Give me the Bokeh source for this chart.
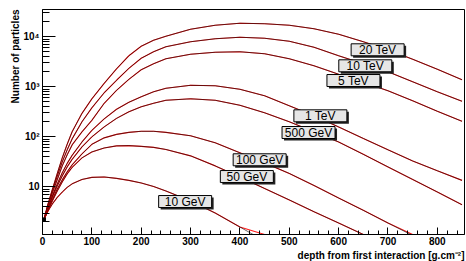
import numpy as np
from bokeh.plotting import figure
from bokeh.models import Range1d, FixedTicker, Title
from bokeh.core.properties import value
from bokeh.embed import file_html
from bokeh.resources import INLINE

# Longitudinal shower profiles: number of particles vs depth [g/cm^2]
depth = [3, 10, 20, 30, 40, 50, 60, 80, 100, 125, 150, 175, 200, 225, 250, 300,
         350, 400, 450, 500, 550, 600, 650, 700, 750, 800, 850]

n_10gev = [2.24, 3.16, 4.57, 6.2, 7.9, 9.8, 11.5, 14.1, 15.5, 15.8, 14.8, 13.5, 12.0, 10.2,
           8.3, 5.25, 3.0, 1.58, 0.83, 0.44, 0.23, 0.12, 0.063, 0.033, 0.017, 0.009, 0.005]
n_50gev = [2.24, 3.16, 5.25, 8.3, 12.6, 18.2, 24.5, 38, 50, 60, 66, 66.8, 64.6, 61.7,
           56, 41.7, 26.3, 15.8, 9.3, 5.5, 3.2, 1.9, 1.12, 0.66, 0.39, 0.23, 0.135]
n_100gev = [2.24, 3.3, 5.6, 9.1, 13.8, 20, 27.5, 45.7, 70.8, 95.5, 112, 123, 129, 129,
            123, 105, 76, 47.9, 30.2, 18.6, 10.7, 6.0, 3.4, 1.9, 1.07, 0.6, 0.34]
n_500gev = [2.24, 3.47, 6.3, 10.5, 16.6, 25.1, 35.5, 63, 100, 158, 234, 316, 398, 468,
            537, 575, 537, 427, 302, 200, 126, 79, 44.7, 25.1, 14.1, 7.9, 4.4]
n_1tev = [2.24, 3.55, 6.6, 11.5, 19.1, 29.5, 42.7, 79, 135, 229, 355, 490, 631, 794,
          933, 1070, 1047, 891, 661, 417, 263, 158, 93, 55, 33, 21, 13.5]
n_5tev = [2.24, 3.8, 7.6, 14.1, 26.3, 43.7, 69, 126, 214, 468, 851, 1410, 2190, 2880,
          3630, 4470, 4900, 5010, 4570, 3630, 2630, 1780, 1230, 832, 525, 324, 204]
n_10tev = [2.24, 3.98, 8.3, 16.6, 31.6, 55, 91, 200, 380, 760, 1350, 2340, 3715, 5010,
           6310, 7940, 9120, 9770, 9330, 8130, 6170, 4170, 2880, 1995, 1260, 794, 513]
n_20tev = [2.24, 4.17, 8.9, 18.6, 38, 71, 126, 295, 575, 1175, 2290, 4170, 6460, 8510,
           10230, 14130, 16980, 18620, 18200, 16980, 14450, 11220, 7940, 5500, 3550, 2240, 1380]

energies = ["10 GeV", "50 GeV", "100 GeV", "500 GeV", "1 TeV", "5 TeV", "10 TeV", "20 TeV"]
profiles = [n_10gev, n_50gev, n_100gev, n_500gev, n_1tev, n_5tev, n_10tev, n_20tev]

# where each energy tag sits (depth, particles)
tag_depth = [289, 414, 440, 539, 563, 630, 654, 679]
tag_count = [5.1, 16.1, 34.8, 122, 263, 1334, 2625, 5480]

X0, X1 = 0, 855
Y0, Y1 = 1.12, 35000.0
FW, FH = 422, 225  # frame size in px

p = figure(width=466, height=261, output_backend="svg", toolbar_location=None,
           x_range=Range1d(X0, X1), y_range=Range1d(Y0, Y1), y_axis_type="log",
           min_border_left=42, min_border_right=2, min_border_top=9, min_border_bottom=27)
p.background_fill_color = "white"
p.border_fill_color = "white"
p.outline_line_color = "black"
p.outline_line_width = 1
p.xgrid.visible = False
p.ygrid.visible = False

FONT = "Liberation Sans"

p.xaxis.ticker = FixedTicker(ticks=list(range(0, 900, 100)),
                             minor_ticks=list(range(0, 880, 20)))
p.yaxis.ticker = FixedTicker(ticks=[10, 100, 1000, 10000],
                             minor_ticks=[m * 10 ** e for e in range(0, 5) for m in range(1, 10)])
p.yaxis.major_label_overrides = {10: "10", 100: "10²", 1000: "10³", 10000: "10⁴"}

for ax in (p.xaxis[0], p.yaxis[0]):
    ax.axis_line_color = "black"
    ax.major_tick_line_color = "black"
    ax.minor_tick_line_color = "black"
    ax.major_tick_out = 0
    ax.minor_tick_out = 0
    ax.major_label_text_font = FONT
    ax.major_label_text_font_style = "bold"
    ax.major_label_text_font_size = "10px"
    ax.major_label_text_color = "black"

p.xaxis.major_tick_in = 7
p.xaxis.minor_tick_in = 4
p.xaxis.major_label_standoff = 2
p.yaxis.major_tick_in = 13
p.yaxis.minor_tick_in = 7
p.yaxis.major_label_standoff = 3

# fitted curves are drawn clipped at the frame bottom (ROOT style)
for vals in profiles:
    v = np.array(vals, dtype=float)
    p.line(depth, np.maximum(v, Y0 * 1.003), line_color="red", line_width=1.1, line_alpha=0.9)
    p.line(depth, v, line_color="black", line_width=0.6)

p.scatter([depth[0]], [n_20tev[0]], marker="square", size=3, color="black")

# energy tags: grey box, black border, dark drop shadow
dx = 2 * (X1 - X0) / FW
fy = 10 ** (-2 * np.log10(Y1 / Y0) / FH)
sx = [d + dx for d in tag_depth]
sy = [c * fy for c in tag_count]
p.rect(sx, sy, width=53, height=12, width_units="screen", height_units="screen",
       fill_color="#222222", line_color=None)
p.rect(tag_depth, tag_count, width=53, height=12, width_units="screen", height_units="screen",
       fill_color="#e6e6e6", line_color="black", line_width=1)
p.text(tag_depth, tag_count, text=energies, text_align="center", text_baseline="middle",
       text_font=value(FONT), text_font_size="12px", text_color="black")

p.add_layout(Title(text="Number of particles", align="right", text_font=FONT,
                   text_font_style="bold", text_font_size="10px", text_color="black",
                   standoff=0, offset=0), "left")
p.add_layout(Title(text="depth from first interaction [g.cm⁻²]", align="right", text_font=FONT,
                   text_font_style="bold", text_font_size="10px", text_color="black",
                   standoff=0, offset=0), "below")

open("out.html", "w").write(file_html(p, INLINE))
